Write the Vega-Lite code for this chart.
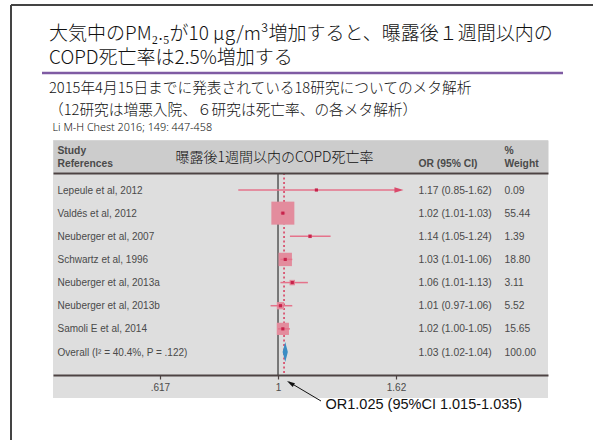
{
  "$schema": "https://vega.github.io/schema/vega-lite/v6.json",
  "width": 495,
  "height": 258,
  "autosize": {"type": "none"},
  "padding": {"left": 53, "top": 140, "right": 45, "bottom": 42},
  "background": "#ffffff",
  "title": {
    "text": ["大気中のPM₂.₅が10 μg/m³増加すると、曝露後１週間以内の", "COPD死亡率は2.5%増加する"],
    "subtitle": ["2015年4月15日までに発表されている18研究についてのメタ解析", "（12研究は増悪入院、６研究は死亡率、の各メタ解析）"],
    "anchor": "start",
    "frame": "group",
    "orient": "top",
    "dx": -4,
    "offset": -114,
    "font": "Noto Sans CJK JP",
    "fontSize": 19,
    "fontWeight": 300,
    "color": "#111111",
    "lineHeight": 24.5,
    "subtitleFont": "Noto Sans CJK JP",
    "subtitleFontSize": 14.7,
    "subtitleFontWeight": 300,
    "subtitleColor": "#111111",
    "subtitleLineHeight": 22,
    "subtitlePadding": 13
  },
  "view": {"fill": "#dedede", "stroke": null},
  "config": {"axis": {"grid": false}},
  "data": {
    "values": [
      {"study": "Lepeule et al, 2012", "or": 1.17, "lo": 0.85, "hi": 1.62, "ci": "1.17 (0.85-1.62)", "w": "0.09", "weight": 0.09, "type": "study"},
      {"study": "Valdés et al, 2012", "or": 1.02, "lo": 1.01, "hi": 1.03, "ci": "1.02 (1.01-1.03)", "w": "55.44", "weight": 55.44, "type": "study"},
      {"study": "Neuberger et al, 2007", "or": 1.14, "lo": 1.05, "hi": 1.24, "ci": "1.14 (1.05-1.24)", "w": "1.39", "weight": 1.39, "type": "study"},
      {"study": "Schwartz et al, 1996", "or": 1.03, "lo": 1.01, "hi": 1.06, "ci": "1.03 (1.01-1.06)", "w": "18.80", "weight": 18.8, "type": "study"},
      {"study": "Neuberger et al, 2013a", "or": 1.06, "lo": 1.01, "hi": 1.13, "ci": "1.06 (1.01-1.13)", "w": "3.11", "weight": 3.11, "type": "study"},
      {"study": "Neuberger et al, 2013b", "or": 1.01, "lo": 0.97, "hi": 1.06, "ci": "1.01 (0.97-1.06)", "w": "5.52", "weight": 5.52, "type": "study"},
      {"study": "Samoli E et al, 2014", "or": 1.02, "lo": 1.0, "hi": 1.05, "ci": "1.02 (1.00-1.05)", "w": "15.65", "weight": 15.65, "type": "study"},
      {"study": "Overall (I² = 40.4%, P = .122)", "or": 1.03, "lo": 1.02, "hi": 1.04, "ci": "1.03 (1.02-1.04)", "w": "100.00", "weight": 100, "type": "overall"}
    ]
  },
  "resolve": {
    "scale": {"y": "independent"},
    "axis": {"x": "independent", "y": "independent"}
  },
  "layer": [
    {
      "data": {"values": [{}]},
      "mark": {"type": "rule", "color": "#444444", "strokeWidth": 2},
      "encoding": {"x": {"value": -42}, "x2": {"value": 540}, "y": {"value": -135}}
    },
    {
      "data": {"values": [{}]},
      "mark": {"type": "rule", "color": "#444444", "strokeWidth": 2},
      "encoding": {"x": {"value": -42}, "y": {"value": -135}, "y2": {"value": 300}}
    },
    {
      "data": {"values": [{}]},
      "mark": {"type": "rule", "color": "#7f5ba3", "strokeWidth": 2.5},
      "encoding": {"x": {"value": -11}, "x2": {"value": 510}, "y": {"value": -67}}
    },
    {
      "data": {"values": [{}]},
      "mark": {"type": "rule", "color": "#555555", "strokeWidth": 1.5},
      "encoding": {
        "x": {
          "datum": 1, "type": "quantitative",
          "scale": {"type": "log", "domain": [0.3984, 3.017], "nice": false},
          "axis": {
            "orient": "top", "offset": -16, "zindex": 0,
            "domain": true, "domainColor": "#cccccc", "domainWidth": 32,
            "ticks": false, "labels": false, "grid": false,
            "title": "Li M-H Chest 2016; 149: 447-458",
            "titleX": -1, "titleY": -29, "titleAlign": "left", "titleBaseline": "middle",
            "titleFont": "Noto Sans", "titleFontSize": 10.8, "titleFontWeight": 300, "titleColor": "#111111"
          }
        },
        "y": {"value": 33},
        "y2": {"value": 235}
      }
    },
    {
      "data": {"values": [{}]},
      "mark": {"type": "rule", "color": "#d8385a", "strokeWidth": 1.5, "strokeDash": [2, 2.5]},
      "encoding": {
        "x": {
          "datum": 1.025, "type": "quantitative",
          "scale": {"type": "log", "domain": [0.3984, 3.017], "nice": false},
          "axis": {
            "orient": "top", "offset": -33, "zindex": 1,
            "domain": true, "domainColor": "#4d4343", "domainWidth": 2,
            "ticks": false, "labels": false, "grid": false,
            "title": "曝露後1週間以内のCOPD死亡率",
            "titleX": 122, "titleY": -16, "titleAlign": "left", "titleBaseline": "middle",
            "titleFont": "Noto Sans CJK JP", "titleFontSize": 14, "titleFontWeight": 300, "titleColor": "#111111"
          }
        },
        "y": {"value": 33},
        "y2": {"value": 235}
      }
    },
    {
      "mark": {"type": "square", "filled": true, "color": "#e38c9d"},
      "encoding": {
        "x": {"field": "or", "type": "quantitative", "scale": {"type": "log", "domain": [0.3984, 3.017], "nice": false}, "axis": null},
        "y": {
          "field": "w", "type": "nominal", "sort": null,
          "scale": {"type": "point", "range": [50, 212], "padding": 0},
          "axis": {
            "orient": "right", "zindex": 1, "domain": false, "ticks": false, "tickSize": 0,
            "labelPadding": -44, "labelAlign": "left", "labelBaseline": "middle",
            "labelFont": "Liberation Sans", "labelFontSize": 10.3, "labelColor": "#4a4a4a", "labelOverlap": false,
            "title": ["%", "Weight"], "titleAngle": 0, "titleX": -44, "titleY": 13.5, "titleAlign": "left", "titleBaseline": "alphabetic",
            "titleFont": "Liberation Sans", "titleFontSize": 10.3, "titleFontWeight": "bold", "titleColor": "#4a4a4a", "titleLineHeight": 13
          }
        },
        "size": {"field": "weight", "type": "quantitative", "scale": {"type": "linear", "domain": [0, 100], "range": [0, 954]}, "legend": null},
        "opacity": {"condition": {"test": "datum.type === 'overall'", "value": 0}, "value": 1}
      }
    },
    {
      "encoding": {
        "y": {
          "field": "study", "type": "nominal", "sort": null,
          "scale": {"type": "point", "range": [50, 212], "padding": 0},
          "axis": {
            "orient": "left", "zindex": 1, "domain": false, "ticks": false, "tickSize": 0,
            "labelPadding": -4, "labelAlign": "left", "labelBaseline": "middle",
            "labelFont": "Liberation Sans", "labelFontSize": 10, "labelColor": "#4a4a4a", "labelOverlap": false,
            "title": ["Study", "References"], "titleAngle": 0, "titleX": 4, "titleY": 13.5, "titleAlign": "left", "titleBaseline": "alphabetic",
            "titleFont": "Liberation Sans", "titleFontSize": 10.3, "titleFontWeight": "bold", "titleColor": "#4a4a4a", "titleLineHeight": 13
          }
        }
      },
      "resolve": {"axis": {"x": "independent"}},
      "layer": [
        {
          "mark": {"type": "rule", "color": "#e5738b", "strokeWidth": 1.5},
          "encoding": {
            "x": {
              "field": "lo", "type": "quantitative",
              "scale": {"type": "log", "domain": [0.3984, 3.017], "nice": false},
              "axis": {
                "orient": "bottom", "offset": -23, "zindex": 1,
                "values": [0.617, 1, 1.62], "format": "~g",
                "labelExpr": "datum.value < 1 ? substring(datum.label, 1) : datum.label",
                "domain": true, "domainColor": "#4d4343", "domainWidth": 2,
                "ticks": true, "tickColor": "#4d4343", "tickSize": 4, "tickWidth": 1.2,
                "labelFont": "Liberation Sans", "labelFontSize": 10, "labelColor": "#4a4a4a", "labelPadding": 3, "labelFlush": false,
                "grid": false,
                "title": "OR1.025 (95%CI 1.015-1.035)",
                "titleX": 272, "titleY": 29, "titleAlign": "left", "titleBaseline": "middle",
                "titleFont": "Liberation Sans", "titleFontSize": 14.5, "titleFontWeight": "normal", "titleColor": "#111111"
              }
            },
            "x2": {"field": "hi"},
            "opacity": {"condition": {"test": "datum.type === 'overall'", "value": 0}, "value": 1}
          }
        },
        {
          "mark": {"type": "point", "filled": true, "shape": "M-1,-0.6L1,0L-1,0.6Z", "size": 81, "color": "#da4a6b", "xOffset": 3},
          "encoding": {
            "x": {"field": "hi", "type": "quantitative", "scale": {"type": "log", "domain": [0.3984, 3.017], "nice": false}, "axis": null},
            "opacity": {"condition": {"test": "datum.hi >= 1.62", "value": 1}, "value": 0}
          }
        },
        {
          "mark": {"type": "point", "filled": true, "shape": "M-0.26,0L0,-1L0.26,0L0,1Z", "size": 400, "color": "#3a8dc4"},
          "encoding": {
            "x": {"field": "or", "type": "quantitative", "scale": {"type": "log", "domain": [0.3984, 3.017], "nice": false}, "axis": null},
            "opacity": {"condition": {"test": "datum.type === 'overall'", "value": 1}, "value": 0}
          }
        }
      ]
    },
    {
      "mark": {"type": "square", "filled": true, "color": "#c7234b", "size": 10},
      "encoding": {
        "x": {"field": "or", "type": "quantitative", "scale": {"type": "log", "domain": [0.3984, 3.017], "nice": false}, "axis": null},
        "y": {
          "field": "ci", "type": "nominal", "sort": null,
          "scale": {"type": "point", "range": [50, 212], "padding": 0},
          "axis": {
            "orient": "right", "zindex": 1, "domain": false, "ticks": false, "tickSize": 0,
            "labelPadding": -130, "labelAlign": "left", "labelBaseline": "middle",
            "labelFont": "Liberation Sans", "labelFontSize": 10.3, "labelColor": "#4a4a4a", "labelOverlap": false,
            "title": "OR (95% CI)", "titleAngle": 0, "titleX": -130, "titleY": 26.5, "titleAlign": "left", "titleBaseline": "alphabetic",
            "titleFont": "Liberation Sans", "titleFontSize": 10.3, "titleFontWeight": "bold", "titleColor": "#4a4a4a"
          }
        },
        "opacity": {"condition": {"test": "datum.type === 'overall'", "value": 0}, "value": 1}
      }
    },
    {
      "data": {"values": [{}]},
      "mark": {"type": "rule", "color": "#111111", "strokeWidth": 1},
      "encoding": {"x": {"value": 236}, "y": {"value": 242}, "x2": {"value": 268}, "y2": {"value": 261}}
    },
    {
      "data": {"values": [{}]},
      "mark": {"type": "point", "filled": true, "shape": "M0,-1L0.55,1L-0.55,1Z", "size": 64, "angle": 301, "color": "#111111", "opacity": 1},
      "encoding": {"x": {"value": 237.4}, "y": {"value": 243.1}}
    }
  ]
}
